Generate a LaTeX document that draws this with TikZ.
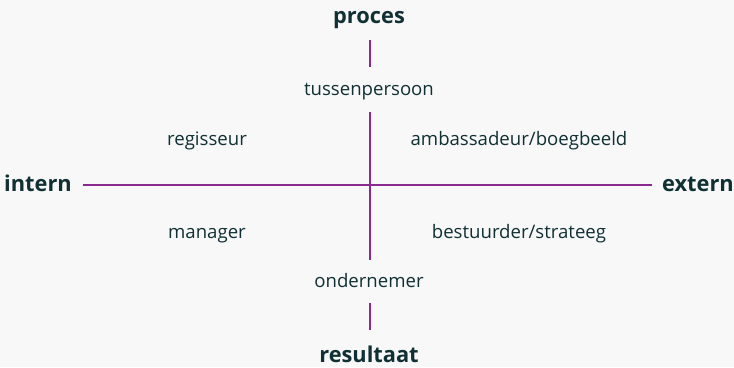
\documentclass[tikz,border=0pt]{standalone}
\usepackage{fontspec}
\setmainfont{Open Sans}
\usetikzlibrary{calc}
\definecolor{axis_purple}{RGB}{138, 42, 142}
\definecolor{label_teal}{RGB}{16, 48, 52}
\definecolor{back_grey}{RGB}{248, 248, 248}
\tikzstyle{rol}=[text=label_teal,inner sep=0pt,anchor=base,
  font=\fontsize{18.6pt}{22pt}\selectfont]
\tikzstyle{pool}=[text=label_teal,inner sep=0pt,anchor=base,
  font=\fontsize{21.8pt}{26pt}\selectfont\bfseries]
\tikzstyle{as}=[draw=axis_purple,line width=2.6pt]
\tikzstyle{none}=[]

\begin{document}
\begin{tikzpicture}[x=1pt,y=-1pt]
        \fill [back_grey] (0,0) rectangle (734,367);
        \useasboundingbox (0,0) rectangle (734,367);
        \node [style=pool] (proces) at (369,23) {proces};
        \node [style=pool] (resultaat) at (369,362) {resultaat};
        \node [style=pool] (intern) at (38,191) {intern};
        \node [style=pool] (extern) at (698,191) {extern};
        \node [style=rol] (tussen) at (369,95) {tussenpersoon};
        \node [style=rol] (onder) at (369,287) {ondernemer};
        \node [style=rol] (regis) at (207,145) {regisseur};
        \node [style=rol] (ambas) at (519,145) {ambassadeur/boegbeeld};
        \node [style=rol] (manag) at (207,238) {manager};
        \node [style=rol] (bestu) at (519,238) {bestuurder/strateeg};
        \coordinate (0) at (370,40);
        \coordinate (1) at (370,67);
        \coordinate (2) at (370,112);
        \coordinate (3) at (370,260);
        \coordinate (4) at (370,303);
        \coordinate (5) at (370,330);
        \coordinate (6) at (83,185);
        \coordinate (7) at (652,185);
        \draw [style=as] (0) to (1);
        \draw [style=as] (2) to (3);
        \draw [style=as] (4) to (5);
        \draw [style=as] (6) to (7);
    \end{tikzpicture}
\end{document}
